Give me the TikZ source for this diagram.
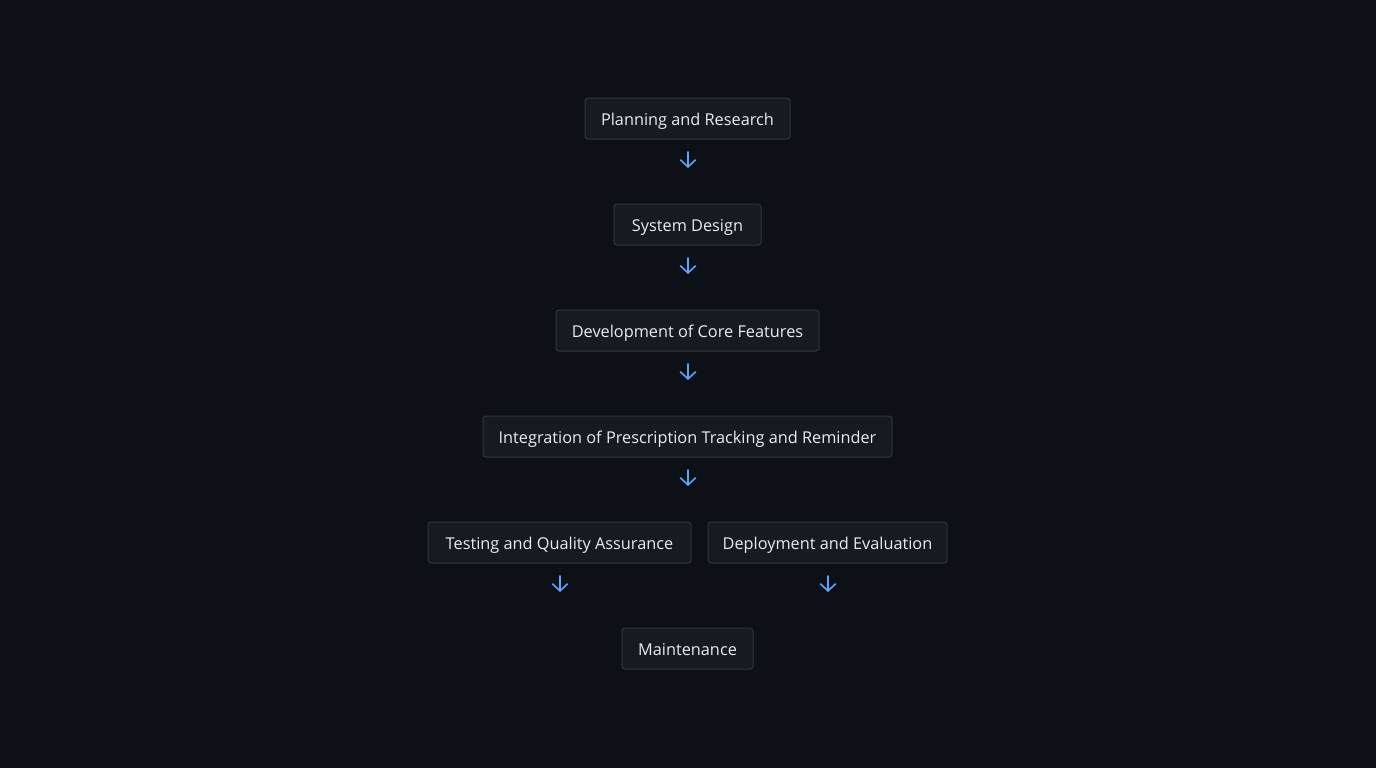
\documentclass[tikz,border=0pt]{standalone}
\usepackage{fontspec}
\setmainfont{Open Sans}
\usetikzlibrary{arrows.meta}
\definecolor{bg}{HTML}{0D1117}
\definecolor{boxfill}{HTML}{161B22}
\definecolor{boxline}{HTML}{30363D}
\definecolor{txt}{HTML}{E6EDF3}
\definecolor{arrowc}{HTML}{58A6FF}
\tikzset{
  stepbox/.style={draw=boxline, fill=boxfill, line width=1pt, rounded corners=3pt,
    text=txt, font=\fontsize{16.3}{19}\selectfont, inner sep=0pt, minimum height=41pt,
    text height=13pt, text depth=0pt, anchor=center},
  downarr/.style={draw=arrowc, line width=1.6pt, line cap=round,
    -{Straight Barb[length=7pt,width=15pt,line cap=round]}}
}
\begin{document}
\begin{tikzpicture}[x=1pt,y=-1pt]
\fill[bg] (0,0) rectangle (1376,768);
\useasboundingbox (0,0) rectangle (1376,768);
\node[stepbox, minimum width=205pt] (plan) at (687.5,118.5) {Planning and Research};
\node[stepbox, minimum width=147pt] (design) at (687.5,224.5) {System Design};
\node[stepbox, minimum width=263pt] (dev) at (687.5,330.5) {Development of Core Features};
\node[stepbox, minimum width=409pt] (integ) at (687.5,436.5) {Integration of Prescription Tracking and Reminder};
\node[stepbox, minimum width=263pt] (test) at (559.5,542.5) {Testing and Quality Assurance};
\node[stepbox, minimum width=239pt] (deploy) at (827.5,542.5) {Deployment and Evaluation};
\node[stepbox, minimum width=131pt] (maint) at (687.5,648.5) {Maintenance};
\coordinate (a1s) at (688,152); \coordinate (a1e) at (688,168);
\coordinate (a2s) at (688,258); \coordinate (a2e) at (688,274);
\coordinate (a3s) at (688,364); \coordinate (a3e) at (688,380);
\coordinate (a4s) at (688,470); \coordinate (a4e) at (688,486);
\coordinate (a5s) at (560,576); \coordinate (a5e) at (560,592);
\coordinate (a6s) at (828,576); \coordinate (a6e) at (828,592);
\draw[downarr] (a1s) -- (a1e);
\draw[downarr] (a2s) -- (a2e);
\draw[downarr] (a3s) -- (a3e);
\draw[downarr] (a4s) -- (a4e);
\draw[downarr] (a5s) -- (a5e);
\draw[downarr] (a6s) -- (a6e);
\end{tikzpicture}
\end{document}
